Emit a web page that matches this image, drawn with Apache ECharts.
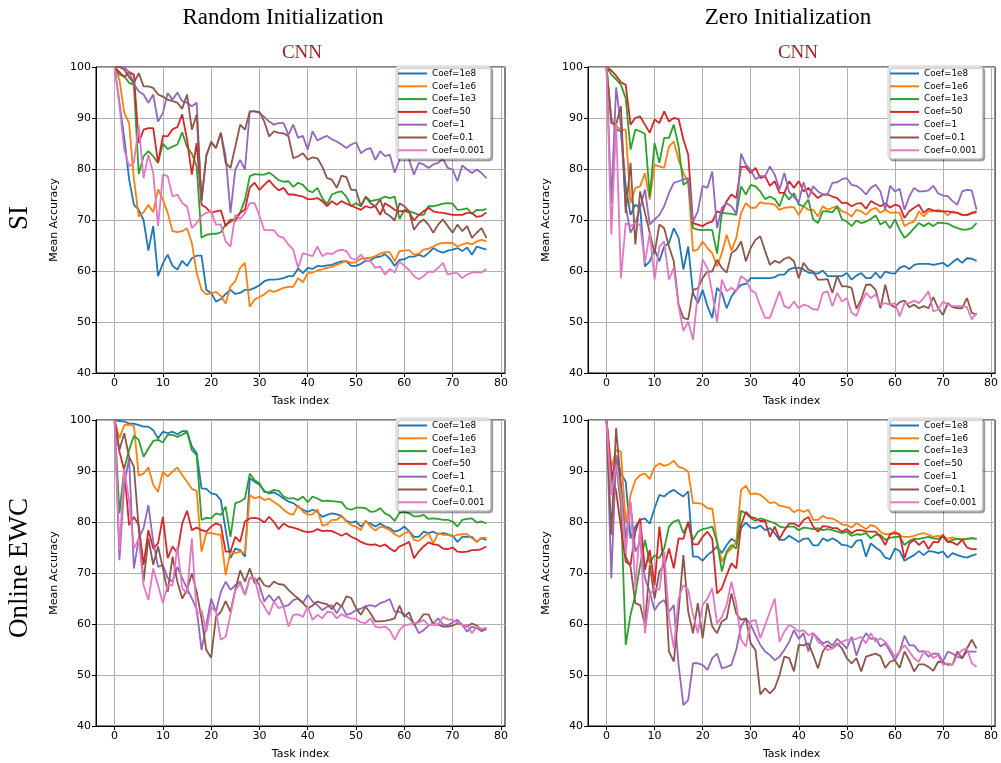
<!DOCTYPE html>
<html><head><meta charset="utf-8">
<script src="https://cdn.jsdelivr.net/npm/echarts@6/dist/echarts.min.js"></script>
<style>html,body{margin:0;padding:0;background:#fff}#c{width:1001px;height:763px}</style>
</head><body><div id="c"></div>
<script>
const coefNames = ['Coef=1e8','Coef=1e6','Coef=1e3','Coef=50','Coef=1','Coef=0.1','Coef=0.001'];
const colors = ['#1f77b4','#ff7f0e','#2ca02c','#d62728','#9467bd','#8c564b','#e377c2'];
const xTicks = [0,10,20,30,40,50,60,70,80];
const yTicks = [40,50,60,70,80,90,100];
const columnTitles = ['Random Initialization','Zero Initialization'];
const rowTitles = ['SI','Online EWC'];
const modelTitle = 'CNN';

// ---------- Random Initialization / SI ----------
const randSI_1e8 = [100,93,86,78,73,72,70,64,68.8,59,61.5,63.2,61,60.3,62,61,62.5,63,63,56.3,55.7,54,54.5,55.5,56.3,55.5,55.7,56.3,56.3,56.7,57.2,58,58.3,58.3,58.4,58.6,59,59,60.5,59.6,60.6,60.4,61,60.9,61.1,61.2,61.6,61.9,61.9,61,61,61.4,62,62.1,62.7,62.8,63.3,62.4,61,62.2,62.3,62.8,62.8,63.2,62.8,63.5,64.5,63.9,63.6,64,64.2,64.5,63.9,64.6,63.2,64.8,64.5,64.2];
const randSI_1e6 = [100,97.5,91,89,78,70.7,71.5,73,71.5,76,74,71.4,67.8,67.6,67.8,68.4,65.5,59.6,56.3,55.4,55.6,55.9,55.1,53.6,57,58,60.6,61.6,53,54.4,54.9,55.4,56.2,55.9,56.3,56.7,56.9,56.9,58.6,57.8,59.6,59.7,60.1,60.3,60.6,60.8,61.2,61.6,62,61.6,61.7,62.4,62.5,62.6,62.9,63.4,63.7,63.7,61.9,63.9,64,64.1,63.2,63.4,64.2,64.4,64.8,65.3,65.5,65.5,65.5,64.8,65.2,65.5,65.2,65.8,66.1,65.8];
const randSI_1e3 = [100,98.5,98.2,96.9,96.5,79,82.5,83.5,82.5,81.2,85,83.9,84.4,84.8,87.2,84.3,83,80.5,66.5,67.1,67.3,67.3,67.6,69.1,69.6,70.4,71.4,74,78.6,79,78.9,78.9,79.3,78.6,77.8,77.5,77.6,76.5,77.3,76.9,75.8,75.4,76.3,74.3,73.1,75,75.4,75.6,74.6,72.7,73.3,72.7,74.6,73.7,73.9,74.1,74.6,74.3,74.6,70.2,72,71.7,71.4,71,71,72.7,72.7,72.9,73.2,73.3,73.2,72,72.1,72.3,71.2,72,71.9,72.2];
const randSI_50 = [100,99,98,99,98.5,85.1,87.7,88,88,81.2,86.5,86.4,87.8,88.2,90.7,85.8,78.9,85.1,73,72.4,71.4,71.7,71.9,68.8,70.1,69.8,71.4,72,76.4,77.3,75.9,76.9,77.8,76.7,75.8,76.3,75,75,74.8,74.6,74.1,74.1,74.3,73.7,72.7,73.7,73,73.7,73.2,72.8,72.4,72,72.7,72.4,72.7,71,73.3,72.7,72,71.7,71.8,71.5,69.9,71,71.7,72.4,71.7,71.5,71.4,71.2,71,71,71,71.4,71.4,70.6,70.8,71.5];
const randSI_1 = [100,100,100,99,96.7,95.2,94.6,93,94.6,89.3,91,94.9,93.6,95,93.3,93,92.3,93,73.6,82.8,85.1,84.1,87.1,82.5,71.4,79.9,81.8,79.9,91.3,91.3,91,90.2,89.3,88.7,89,89,86.7,88.7,86.1,86.5,83.8,87.4,85.6,86.1,86.5,85.8,85.4,84.8,84.1,84.8,85.2,83.1,83.8,84.1,81.8,83.5,82.5,82.8,79.3,81.8,83.9,81.8,78.9,81.2,80.9,80.2,80.9,81.2,82,80.2,79.9,77.6,80.7,79.9,79.2,79.9,79.2,78.2];
const randSI_01 = [100,100,99.5,98,96.9,98.8,96.2,96.2,95.9,94.6,94.2,93.6,93.3,93,91.8,94.6,87.7,90.7,73.9,82.5,85.4,84.1,87.1,81.2,80.2,84.4,88.7,87.7,91.3,91.3,91.2,89.3,86.4,87.4,87.1,87,86.4,82.1,82.5,83.1,81.8,82.3,82.1,80.5,78.2,77.9,76.3,78.7,78.4,75.9,75.9,72.7,74.5,73.3,72.7,74,71.4,70.8,69.9,73.3,72.7,71.7,68.1,69.4,70.1,69.1,67.5,69.1,70.1,68.8,67.5,69.1,67.8,68.8,66.5,67.5,68.4,66.5];
const randSI_0001 = [100,92.5,83.8,80.5,81.3,88.4,78.2,82.8,79.2,68.8,78.9,78.6,74.6,75,73.3,72.7,68.4,69.4,70.8,71.4,71.7,69.1,69.1,65.8,64.8,71,70.2,71.4,73.3,73.3,70.8,68,68,68,66.8,66.5,65.2,64.2,60.6,63.5,63.2,62.9,64.8,62.9,63.5,63.3,63.9,64.2,63.9,62.5,62.2,63.2,62.1,61.9,60.6,60.9,59.3,60.4,59.7,61.9,61,60.2,59,58.4,59,59.9,59.8,60.6,61.6,59.3,59.6,59.6,58.6,59.3,59.7,59.8,59.7,60.4];

// ---------- Zero Initialization / SI ----------
const zeroSI_1e8 = [100,90,87.7,87.4,76.6,71,73,72.4,60.9,61.9,64.2,61.9,64.8,65.5,68.4,66.5,60.3,64.8,55.7,53.7,56.3,53.1,50.8,56.7,55.7,52.7,55,56.3,57.3,57.5,58.6,58.6,58.6,58.6,58.6,58.8,59.3,59.3,60.3,60.6,60.6,60.3,59.7,59.6,59.5,60.1,59,59,59,59,59.6,58.3,59.1,59.6,58.6,58.6,59.7,58.6,59.9,59.6,59.5,60.6,61,60.4,61.2,61.4,61.4,61.4,61.2,61.4,61.6,60.9,61.7,62.4,61.6,62.5,62.4,62];
const zeroSI_1e6 = [100,89.7,88.4,87.7,87.7,73.3,76.3,76.6,79.2,74,80.8,80.5,80.2,84.4,85.4,81.8,79.2,77.3,63.9,64.2,65.8,64.5,63.5,60.9,63.5,67.1,64,66.5,71.4,73.3,72.4,72.4,73.5,73.2,73.2,73,72,72.4,72.5,72.5,71,72.7,72,72,70.7,72.7,72,72.4,72.7,71.7,71.4,70.7,72,71.7,71,72,72.4,71.4,72,71.4,71.5,71.4,68.8,69.4,69.7,71.7,70.7,71.7,71.7,72,71.7,70.9,71.7,71.4,71,70.9,71.3,71.5];
const zeroSI_1e3 = [100,98.5,97.6,96.5,93.9,83.8,87.7,87.4,86.9,74.6,85.1,81.2,86.1,86.1,88.7,84.4,76.9,77.6,68.4,68.1,68,68.1,68,63.4,71.4,71.3,71.2,71,76.6,75,76.9,76.6,75.6,74.1,74.6,74.1,72.7,75.3,74,75.3,73,72.7,74,70.1,69.4,71.7,71.7,71.5,72.7,70.1,69.7,68.8,69.9,69.4,69.7,70.2,70.9,69.1,69.7,68.4,70.1,68.1,66.5,67.3,68.4,69.4,68.8,69.4,68.8,69.5,69.4,69.3,68.8,68.4,68.1,68.1,68.4,69.4];
const zeroSI_50 = [100,99.3,98.3,97,96.5,88.7,90,90.3,88.7,87.1,89.7,89,91.3,89.3,90,89.8,85.8,82.8,69.4,69.1,68.8,69.4,69.7,71.7,71.4,73.7,75,74.3,80.4,80.4,79.2,80.2,78.2,78.6,76.7,77.6,75.3,75.3,77.6,76.3,77.6,75.6,76.3,75.2,74.3,75,75,74.6,74.3,73.3,73.4,72.7,73.2,73.3,72.2,73.7,73.2,72.7,73.3,72.4,73,72.7,70.4,71.7,72.4,73,71.4,72.2,71.9,71.7,71.7,71.7,71.5,71.4,71,71,71.4,71.7];
const zeroSI_1 = [100,73.3,96,88.4,72.7,67.5,69.4,72.4,76,69.1,70.1,71,72.7,75.3,77.3,77.6,77.9,78.2,69.7,71.7,76.7,76.3,79.5,68.4,72.4,73.3,72.7,71.2,83,80.8,79.9,78,78.6,78.6,80.5,78.9,76,79.2,75.5,74.5,73.5,77.4,74.3,76.6,75.6,75,75,77.3,77.4,78,78.2,76.9,76.7,76,75,76.3,76.9,75.6,72,76.7,75.6,76.1,72,74.6,76.3,75.6,75.6,75.8,76.7,75.2,74.8,74.7,73.7,73,75.6,75.9,75.8,72];
const zeroSI_01 = [100,89,88.7,92.3,71.4,81.2,65.2,75.6,71.4,67.5,63.5,69.1,68.4,64.8,61.9,53.4,50.8,50.5,56.3,56.6,58.6,59.9,59.9,62.2,60.6,59.7,63.5,64.2,65.8,61.9,64.5,66.1,66.8,63.9,61.2,62,61.6,62.4,62.7,61.9,58.6,61.6,60.3,59.9,58.3,58.3,58.4,55.7,59,57,57,56.7,52.6,54.5,57.3,57.3,56.3,52.7,57.3,53.4,52.9,53.9,54.2,52.9,53.4,52.7,53.1,52.7,54.9,52.7,51.4,53.7,52.9,52.7,52.7,54.7,51.8,51.4];
const zeroSI_0001 = [100,67.1,89,58.6,69.4,68.8,69.4,69.1,61.6,67.5,58.3,64.8,65.8,58.3,60.6,53.1,48.2,50.1,46.5,55.7,62.2,60.6,55.7,49.9,58.3,56,56.7,56,59,58.3,56.3,55.7,53.1,50.8,50.8,53.4,56,53.1,52.7,54,52.7,53.4,53.1,52.5,52.4,55.7,56,53.1,55.7,54,54.7,51.8,51.2,53.7,55.7,54.7,55.4,53.4,53.7,53.4,53.7,51.1,53.7,53.7,54.2,53.7,54.7,56,52.1,52.4,54,53.4,53.1,53.1,53.1,52.9,50.5,51.8];

// ---------- Random Initialization / Online EWC ----------
const randEWC_1e8 = [100,99.8,99.7,99.3,99.3,99,98.7,98.7,98,96.4,97.7,97.4,97.7,97.2,97.8,97.8,94.8,93.5,86.6,86.5,85.6,85.4,84.3,78.4,72.9,74.8,74.5,73.2,88.6,87.9,87.3,86.1,85.6,85.8,85.3,84.6,84,83.7,83,82.4,82,82.4,82,81,81.4,81.7,81.5,81.2,80.2,79.9,80.1,79.1,80.1,79.7,79.1,79.7,79.1,78.8,78.1,78.4,79.1,78.2,77.1,77.1,78.1,77.8,78.1,77.6,77.8,77.6,77.3,76.1,77.1,77.1,77.1,76.1,76.8,76.5];
const randEWC_1e6 = [100,96.4,99,99.1,98.9,89.1,89.5,90.7,87.3,85.9,89.9,88.9,89.9,90.7,89.2,87.9,86.5,86.1,74.2,77.8,77.8,77.6,77.5,69.6,74.2,73.9,74.2,73.9,85.3,84.6,85,84.3,84.6,83.9,83.3,82.4,81.7,81.4,83.3,82,81.4,81.5,82.5,79.3,79.5,80.4,80.4,81.2,80.1,79.4,79.1,78.4,80.3,79.1,78.3,79.1,78.9,78.4,77.6,77.1,77.8,78.1,76.5,76.3,77.1,77.8,75.8,77.8,77.5,77.5,77.1,77.5,77.6,77.6,76.8,76.1,76.9,76.9];
const randEWC_1e3 = [100,81.7,90.5,94.1,96.9,96.1,92.8,94.4,95.9,96.1,95.6,97.1,97.1,96.7,97.1,97.7,94.1,93.1,80.4,80.8,80.7,81.7,81.4,83,77.1,83.7,84,84.6,89.5,88.2,87.6,85.9,85.8,86.3,86.1,85,84.6,84.7,84.3,85,83.9,85,84.6,84.1,84.2,84.1,84,83.9,82.7,82.4,82.8,82.8,82.7,82,82.1,82.7,81.7,81.2,80.2,81.8,82,81.7,81.1,81.1,81.4,80.6,80.7,80.6,80.4,80.4,80.1,79.1,80.4,80.6,80.7,79.9,80.1,79.7];
const randEWC_50 = [100,93.8,90.2,79.4,81,79.4,71.6,78.4,74.8,75.8,81,72.9,75.2,73.9,79.7,82.2,78.4,78.9,78.4,78.1,79.1,79.7,79.4,74.2,74.2,77.1,76.1,80.1,80.7,80.8,80.6,79.9,81,80,78.6,79.7,79.1,78.9,78.6,78.2,78,78.1,78.6,78.2,78.3,78.2,77.8,77.3,77.8,77.1,76.7,76.1,75.7,75.5,75.6,75.2,75.6,74.8,74.2,75.2,75.6,76.1,72.9,74.2,75.2,76,75.6,75.5,74.8,74.7,75,74.2,74.1,74.2,74.5,74.5,74.7,75.2];
const randEWC_1 = [100,72.5,87.3,92.5,70.9,76.8,78.8,83.3,76.1,71.2,71.6,69,68.3,71.2,69,67,65,62.9,54.9,59.8,65,62.4,66.3,68.3,66.7,67.6,68.3,65.7,69,69,67.6,64.4,65.7,64.4,65.4,63.4,63.7,64.7,65,64.1,65.7,64.4,63.7,62.7,63.4,63.7,62.1,63.7,61.8,62.1,62.7,63,63.5,63.7,63.4,64.1,64.4,64.9,62.4,62.4,61.8,61.1,60.1,58.2,58.8,59.7,60.1,61.1,59.9,59.8,60.3,60.8,59.8,58.5,59.5,59.2,58.6,59];
const randEWC_01 = [100,94.1,97.4,92.8,90.8,78.8,68.3,76.8,71.6,75.2,70.9,66.3,73.2,68.3,65,66.7,69.9,66.3,61.1,54.9,53.4,61.4,62.4,64.5,62.4,66.7,70.5,68.3,70.9,68,69.1,67.6,67.3,68.3,67.8,67.7,66.7,65.8,65,64.1,63.1,63.6,64.4,64.1,63.9,62.9,64.2,63.4,65.4,65.1,63.1,61.8,63.4,62.1,60.5,60.5,60.6,60.8,61.1,63.6,61.4,62.3,59.8,60.6,61.9,61.9,59.9,59.9,59.5,59.5,59.7,60.1,59.9,59.5,60.1,59.7,58.8,59.2];
const randEWC_0001 = [100,74.5,90.5,84,74.8,76.8,67.6,64.7,70.9,67.6,64.1,67.6,67.6,75.2,67,66,76.8,61.8,62.7,58.5,63.4,62.4,56.9,57.5,61.8,66.7,67.9,65.7,69.1,69,65,63.4,61.8,64.4,63.1,63.4,59.5,61.8,61.9,61.4,63.4,60.8,61.8,61.1,62.4,62.3,61.1,61.9,61.4,61.1,61,60.3,60.2,61.1,59.5,59.3,59.5,58.8,56.9,58.8,59.8,59.9,60.1,60.3,60.8,59.8,59.9,59.9,61.4,60.9,60.8,60.3,59.8,59.8,58.2,59.5,59,59.3];

// ---------- Zero Initialization / Online EWC ----------
const zeroEWC_1e8 = [100,87.9,93.1,89.5,87.9,76.8,79.1,80.4,80.7,79.7,82.7,85.3,85,85.8,86.3,85.6,85,86,73.2,73.2,72.4,73.5,74.2,75.2,73.9,75.5,76.7,76.1,78.8,79.9,78.9,78.8,79.3,78.4,78.8,77.8,76.5,76.5,77.3,76.7,76.1,76.7,76.8,75.4,75.4,76.8,76.3,76.8,76.3,75.5,75.4,75,76.3,76.5,73.2,75.8,75,74.3,73,72.7,74.8,74.3,72.4,73,73.5,74.3,73.5,74.3,74.2,73.9,74.2,73,73.9,73.5,73.2,73,73.4,73.7];
const zeroEWC_1e6 = [100,90.5,94.1,93.8,79.7,85.3,88.2,89.2,89.5,88.4,90.8,91.5,91,91.3,92,90.8,90.5,89.9,83.7,83.7,83.5,82.7,82.6,76.1,72.2,73.9,74.8,76.1,86.3,87.1,85.4,85.6,85.3,84.6,83.7,83.9,83.2,83,82.8,81.9,82.4,82,82.4,80.4,80.4,81.2,80.7,80.7,80.2,79.5,79.4,78.9,79.8,79.2,78.6,79.4,79.1,78.1,77.6,77.6,78.2,77.3,77.1,77.1,77.3,77.6,77.8,77.5,77.1,77.3,77.1,76.7,77,76.7,76.7,76.7,76.9,76.7];
const zeroEWC_1e3 = [100,87.3,91.2,83.3,55.9,61.8,65.7,71.6,76.5,71.9,73.5,72.9,74.8,79.1,80.1,80.4,77.8,79.7,76.5,78.1,78.6,78.8,79.1,76.1,70.3,74.2,75.5,74.8,82.2,81.7,80.8,80.2,80.7,80.4,80.1,79.8,79.1,78.9,79.1,79.1,78.4,78.9,78.8,78.6,78.8,78.4,78.6,78.4,78.1,77.8,78.1,77.3,77.6,77.5,77.8,76.8,77.5,77.5,76.5,76.9,77.1,77.1,75.5,76.3,76.7,76.7,76.9,77.1,76.8,76.7,77.1,76.1,76.5,76.7,76.5,76.7,76.8,76.7];
const zeroEWC_50 = [100,90,86,79,72.2,71.6,78.1,80.7,70.6,74.5,67.6,79.1,71.2,74.8,70.9,76.8,76.7,80.1,75.6,75.6,77.1,78.1,76.7,66,67,69.6,71.9,70.9,79.4,82,81,80.7,80.2,80.2,77.1,79.1,76.7,78.4,79.7,79.7,79.1,80.4,81,79.1,78.1,79.2,79.1,78.8,78.8,78.1,78.6,77.8,78.4,78.4,78.1,78.1,78.1,77.1,75.5,77.6,77.8,77.6,72.9,75.8,76.5,75.5,76.3,74.7,76.1,76,77.5,76.1,76,75.5,76.5,75,74.7,74.7];
const zeroEWC_1 = [100,69,93.1,87.3,76.8,83.7,74.2,76.1,69,66.3,62.7,64.1,64.7,62.4,63.7,52,44.1,45.1,52.3,52.3,52,51,53.3,54.2,51.3,51.6,52,55,59.5,61.1,59.9,57.8,55.9,54.6,53.9,52.9,53.6,54.9,56.5,58.8,57.1,58.2,54.6,58.2,57.2,56.2,56.6,55.8,57.1,56.2,55.2,57.5,53.8,56.5,58.2,57.1,57.2,55.6,56.2,54.6,52.9,54.6,57.7,55.8,55.8,54.6,54.7,53.6,54.2,54.2,52.6,54.6,54.2,53.6,53.3,54.6,54.6,54.6];
const zeroEWC_01 = [100,77.5,98.4,87.3,73.2,71.2,64.1,63.7,59.8,71.6,65,70.3,71.6,54.6,52.6,62.4,73.5,62.4,58.2,64.1,57.2,64.1,59.5,58.2,60.5,61.1,66,62,60.8,61.1,56.2,54.9,46.2,47.4,46.4,47.4,50,53.6,53.3,50.7,55.9,55.8,56.2,53.9,51.3,54.6,55.9,55.2,56.2,55.2,53.3,52.3,53.3,50.7,53.6,53.9,54.2,53.7,51.4,52.6,52.9,51.4,54.6,52.9,50.7,52.1,52.1,51.6,50.8,52.6,52.5,52,52.1,54.6,53.3,55.2,56.9,55.2];
const zeroEWC_0001 = [100,85.3,91.2,85.3,73.9,84,67,79.4,58.2,65.7,67,66.7,74.2,61.1,55.2,65,67.6,66.7,61.8,58.2,63.7,65,67,60.1,61.4,63.7,68.3,64,56.9,55.6,60.5,60.8,57.2,59.8,62.4,65,56.5,58.5,59.8,59.3,58.5,58.8,57.8,58.2,56.5,55.9,54.9,55.2,55.9,56.5,56.9,56.9,57.1,57.5,56.2,58.2,56.5,57.2,56.5,55.2,53.6,54.6,55.9,54.6,53.3,52.6,54.6,54.6,53.3,53.9,52,52.3,52,53.9,54.9,55.2,52.3,51.6];

const panelData = [
  [randSI_1e8, randSI_1e6, randSI_1e3, randSI_50, randSI_1, randSI_01, randSI_0001],
  [zeroSI_1e8, zeroSI_1e6, zeroSI_1e3, zeroSI_50, zeroSI_1, zeroSI_01, zeroSI_0001],
  [randEWC_1e8, randEWC_1e6, randEWC_1e3, randEWC_50, randEWC_1, randEWC_01, randEWC_0001],
  [zeroEWC_1e8, zeroEWC_1e6, zeroEWC_1e3, zeroEWC_50, zeroEWC_1, zeroEWC_01, zeroEWC_0001]
];
const bad = [];
panelData.forEach((arrs, p) => arrs.forEach((a, k) => { if (a.length !== 78) bad.push(p + ':' + k + '=' + a.length); }));
if (bad.length) throw new Error('length mismatch ' + bad.join(' '));

const gridBoxes = [
  {left: 96, top: 67, width: 409, height: 306},
  {left: 588, top: 67, width: 409, height: 306},
  {left: 96, top: 420, width: 409, height: 306},
  {left: 588, top: 420, width: 409, height: 306}
];
const legendPos = [[396, 66], [888, 66], [396, 418], [888, 418]];
const tickFont = {fontSize: 11, fontFamily: 'DejaVu Sans', color: '#000'};

const option = {
  animation: false,
  backgroundColor: '#fff',
  grid: gridBoxes.map(g => Object.assign({show: true, borderColor: '#000', borderWidth: 1, backgroundColor: 'transparent', containLabel: false}, g)),
  xAxis: gridBoxes.map((g, i) => ({
    type: 'value', gridIndex: i, min: -3.85, max: 80.85,
    axisLine: {show: true, onZero: false, lineStyle: {color: '#000', width: 1}},
    axisTick: {show: true, inside: false, length: 4, lineStyle: {color: '#000', width: 1}, customValues: xTicks},
    axisLabel: Object.assign({customValues: xTicks, margin: 5}, tickFont),
    splitLine: {show: true, lineStyle: {color: '#b0b0b0', width: 1}},
    name: 'Task index', nameLocation: 'middle', nameGap: 23,
    nameTextStyle: tickFont
  })),
  yAxis: gridBoxes.map((g, i) => ({
    type: 'value', gridIndex: i, min: yTicks[0], max: yTicks[yTicks.length - 1], interval: 10,
    axisLine: {show: true, onZero: false, lineStyle: {color: '#000', width: 1}},
    axisTick: {show: true, inside: false, length: 4, lineStyle: {color: '#000', width: 1}},
    axisLabel: Object.assign({margin: 5}, tickFont),
    splitLine: {show: true, lineStyle: {color: '#b0b0b0', width: 1}},
    name: 'Mean Accuracy', nameLocation: 'middle', nameGap: 36, nameRotate: 90,
    nameTextStyle: tickFont
  })),
  legend: legendPos.map(p => ({
    left: p[0], top: p[1], orient: 'vertical', data: coefNames, selectedMode: false,
    icon: 'rect', itemWidth: 29, itemHeight: 2, itemGap: 1.8,
    padding: [2, 6, 3, 2],
    backgroundColor: '#fff', borderColor: '#cccccc', borderWidth: 1, borderRadius: 3,
    shadowColor: 'rgba(0,0,0,0.35)', shadowOffsetX: 2, shadowOffsetY: 2, shadowBlur: 1,
    textStyle: {fontSize: 8.8, fontFamily: 'DejaVu Sans', color: '#000', lineHeight: 11}
  })),
  series: [],
  graphic: [
    {type: 'text', style: {text: columnTitles[0], x: 283, y: 18, align: 'center', verticalAlign: 'middle', font: '23px "Liberation Serif"', fill: '#000'}},
    {type: 'text', style: {text: columnTitles[1], x: 788, y: 18, align: 'center', verticalAlign: 'middle', font: '23px "Liberation Serif"', fill: '#000'}},
    {type: 'text', style: {text: modelTitle, x: 302, y: 53, align: 'center', verticalAlign: 'middle', font: '19px "Liberation Serif"', fill: '#9b1c1c'}},
    {type: 'text', style: {text: modelTitle, x: 798, y: 53, align: 'center', verticalAlign: 'middle', font: '19px "Liberation Serif"', fill: '#9b1c1c'}},
    {type: 'text', x: 20, y: 218, rotation: Math.PI / 2, style: {text: rowTitles[0], x: 0, y: 0, align: 'center', verticalAlign: 'middle', font: '27px "Liberation Serif"', fill: '#000'}},
    {type: 'text', x: 20, y: 568, rotation: Math.PI / 2, style: {text: rowTitles[1], x: 0, y: 0, align: 'center', verticalAlign: 'middle', font: '27px "Liberation Serif"', fill: '#000'}}
  ]
};

panelData.forEach((arrs, p) => arrs.forEach((arr, k) => {
  option.series.push({
    type: 'line', name: coefNames[k], xAxisIndex: p, yAxisIndex: p,
    data: arr.map((v, i) => [i, v]),
    showSymbol: false, symbol: 'none', clip: true,
    lineStyle: {width: 1.8, color: colors[k]},
    itemStyle: {color: colors[k]},
    emphasis: {disabled: true}
  });
}));

const chart = echarts.init(document.getElementById('c'), null, {renderer: 'canvas'});
chart.setOption(option);
</script>
</body></html>
